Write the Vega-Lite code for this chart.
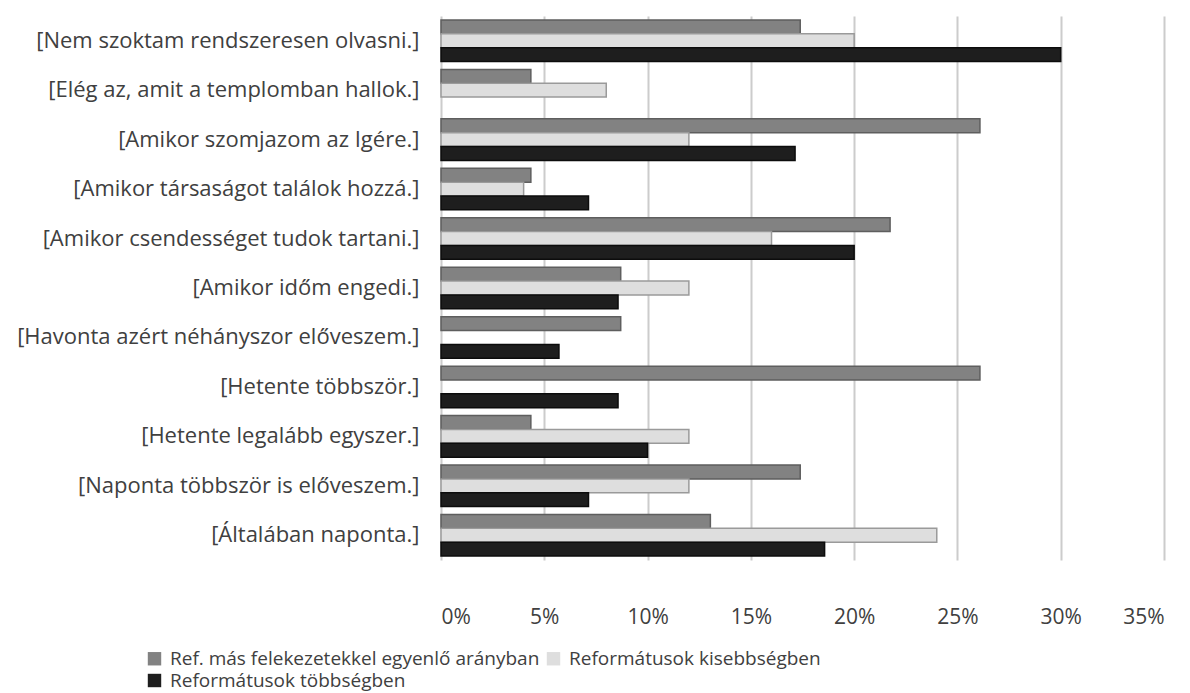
{
  "$schema": "https://vega.github.io/schema/vega-lite/v6.json",
  "width": 723,
  "height": 544,
  "autosize": {"type": "none"},
  "padding": {"left": 441, "top": 16, "right": 26, "bottom": 133},
  "background": "white",
  "config": {
    "view": {"stroke": null},
    "font": "Open Sans",
    "axis": {"labelFont": "Open Sans", "labelColor": "#404040"},
    "legend": {"labelFont": "Open Sans", "labelColor": "#404040"}
  },
  "data": {
    "values": [
      {"cat": "[Nem szoktam rendszeresen olvasni.]", "series": "Ref. más felekezetekkel egyenlő arányban", "v": 0.1739},
      {"cat": "[Nem szoktam rendszeresen olvasni.]", "series": "Reformátusok kisebbségben", "v": 0.20},
      {"cat": "[Nem szoktam rendszeresen olvasni.]", "series": "Reformátusok többségben", "v": 0.30},
      {"cat": "[Elég az, amit a templomban hallok.]", "series": "Ref. más felekezetekkel egyenlő arányban", "v": 0.0435},
      {"cat": "[Elég az, amit a templomban hallok.]", "series": "Reformátusok kisebbségben", "v": 0.08},
      {"cat": "[Amikor szomjazom az Igére.]", "series": "Ref. más felekezetekkel egyenlő arányban", "v": 0.2609},
      {"cat": "[Amikor szomjazom az Igére.]", "series": "Reformátusok kisebbségben", "v": 0.12},
      {"cat": "[Amikor szomjazom az Igére.]", "series": "Reformátusok többségben", "v": 0.1714},
      {"cat": "[Amikor társaságot találok hozzá.]", "series": "Ref. más felekezetekkel egyenlő arányban", "v": 0.0435},
      {"cat": "[Amikor társaságot találok hozzá.]", "series": "Reformátusok kisebbségben", "v": 0.04},
      {"cat": "[Amikor társaságot találok hozzá.]", "series": "Reformátusok többségben", "v": 0.0714},
      {"cat": "[Amikor csendességet tudok tartani.]", "series": "Ref. más felekezetekkel egyenlő arányban", "v": 0.2174},
      {"cat": "[Amikor csendességet tudok tartani.]", "series": "Reformátusok kisebbségben", "v": 0.16},
      {"cat": "[Amikor csendességet tudok tartani.]", "series": "Reformátusok többségben", "v": 0.20},
      {"cat": "[Amikor időm engedi.]", "series": "Ref. más felekezetekkel egyenlő arányban", "v": 0.087},
      {"cat": "[Amikor időm engedi.]", "series": "Reformátusok kisebbségben", "v": 0.12},
      {"cat": "[Amikor időm engedi.]", "series": "Reformátusok többségben", "v": 0.0857},
      {"cat": "[Havonta azért néhányszor előveszem.]", "series": "Ref. más felekezetekkel egyenlő arányban", "v": 0.087},
      {"cat": "[Havonta azért néhányszor előveszem.]", "series": "Reformátusok többségben", "v": 0.0571},
      {"cat": "[Hetente többször.]", "series": "Ref. más felekezetekkel egyenlő arányban", "v": 0.2609},
      {"cat": "[Hetente többször.]", "series": "Reformátusok többségben", "v": 0.0857},
      {"cat": "[Hetente legalább egyszer.]", "series": "Ref. más felekezetekkel egyenlő arányban", "v": 0.0435},
      {"cat": "[Hetente legalább egyszer.]", "series": "Reformátusok kisebbségben", "v": 0.12},
      {"cat": "[Hetente legalább egyszer.]", "series": "Reformátusok többségben", "v": 0.10},
      {"cat": "[Naponta többször is előveszem.]", "series": "Ref. más felekezetekkel egyenlő arányban", "v": 0.1739},
      {"cat": "[Naponta többször is előveszem.]", "series": "Reformátusok kisebbségben", "v": 0.12},
      {"cat": "[Naponta többször is előveszem.]", "series": "Reformátusok többségben", "v": 0.0714},
      {"cat": "[Általában naponta.]", "series": "Ref. más felekezetekkel egyenlő arányban", "v": 0.1304},
      {"cat": "[Általában naponta.]", "series": "Reformátusok kisebbségben", "v": 0.24},
      {"cat": "[Általában naponta.]", "series": "Reformátusok többségben", "v": 0.1857}
    ]
  },
  "mark": {"type": "bar", "strokeWidth": 1.5, "cornerRadius": 0},
  "encoding": {
    "y": {
      "field": "cat",
      "type": "nominal",
      "sort": null,
      "scale": {"paddingInner": 0.16, "paddingOuter": 0.08},
      "axis": {
        "title": null,
        "domain": false,
        "ticks": false,
        "grid": false,
        "labelFontSize": 22,
        "labelPadding": 22,
        "labelLimit": 440
      }
    },
    "yOffset": {
      "field": "series",
      "type": "nominal",
      "sort": ["Ref. más felekezetekkel egyenlő arányban", "Reformátusok kisebbségben", "Reformátusok többségben"],
      "scale": {"paddingInner": 0, "paddingOuter": 0}
    },
    "x": {
      "field": "v",
      "type": "quantitative",
      "scale": {"domain": [0, 0.35], "nice": false},
      "axis": {
        "title": null,
        "format": ".0%",
        "values": [0, 0.05, 0.1, 0.15, 0.2, 0.25, 0.3, 0.35],
        "domain": false,
        "ticks": false,
        "grid": true,
        "gridColor": "#cccccc",
        "gridWidth": 2,
        "labelFontSize": 21,
        "labelPadding": 46
      }
    },
    "color": {
      "field": "series",
      "type": "nominal",
      "sort": ["Ref. más felekezetekkel egyenlő arányban", "Reformátusok kisebbségben", "Reformátusok többségben"],
      "scale": {"range": ["#828282", "#dedede", "#1e1e1e"]},
      "legend": {
        "title": null,
        "orient": "none",
        "legendX": -296,
        "legendY": 633,
        "direction": "horizontal",
        "columns": 2,
        "columnPadding": 4,
        "rowPadding": 2,
        "symbolType": "square",
        "symbolSize": 180,
        "symbolStrokeWidth": 1.5,
        "labelFontSize": 19,
        "labelLimit": 600,
        "labelOffset": 6
      }
    },
    "stroke": {
      "field": "series",
      "type": "nominal",
      "sort": ["Ref. más felekezetekkel egyenlő arányban", "Reformátusok kisebbségben", "Reformátusok többségben"],
      "scale": {"range": ["#5e5e5e", "#9a9a9a", "#0c0c0c"]},
      "legend": null
    }
  }
}
